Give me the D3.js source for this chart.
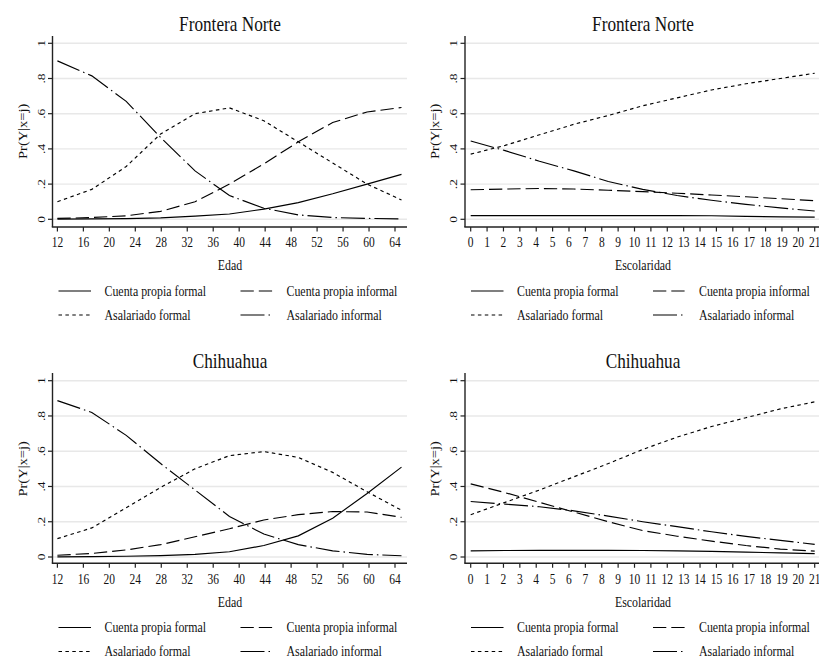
<!DOCTYPE html>
<html>
<head>
<meta charset="utf-8">
<script src="https://cdn.jsdelivr.net/npm/d3@7"></script>
<style>
  body { margin: 0; background: #fff; }
  text { font-family: "Liberation Serif", "Times New Roman", serif; fill: #111; }
</style>
</head>
<body>
<div id="chart"></div>
<script>

// puntos de evaluacion
var edadPts = [12, 17.3, 22.6, 27.9, 33.2, 38.5, 43.8, 49.1, 54.4, 59.7, 65],
    escPts = [0, 2.1, 4.2, 6.3, 8.4, 10.5, 12.6, 14.7, 16.8, 18.9, 21],
    edadTicks = [12, 16, 20, 24, 28, 32, 36, 40, 44, 48, 52, 56, 60, 64],
    escTicks = [0, 1, 2, 3, 4, 5, 6, 7, 8, 9, 10, 11, 12, 13, 14, 15, 16, 17, 18, 19, 20, 21],
    yTicks = [0, 0.2, 0.4, 0.6, 0.8, 1],
    yTickLabels = ["0", ".2", ".4", ".6", ".8", "1"],
    seriesNames = ["Cuenta propia formal", "Cuenta propia informal", "Asalariado formal", "Asalariado informal"];

// Frontera Norte - Edad
var fnEdadCPF = [0.001, 0.002, 0.004, 0.008, 0.018, 0.03, 0.058, 0.095, 0.145, 0.2, 0.255],
    fnEdadCPI = [0.005, 0.01, 0.02, 0.045, 0.10, 0.20, 0.315, 0.44, 0.55, 0.61, 0.635],
    fnEdadAF  = [0.10, 0.17, 0.30, 0.485, 0.60, 0.633, 0.56, 0.44, 0.32, 0.20, 0.11],
    fnEdadAI  = [0.90, 0.815, 0.67, 0.465, 0.275, 0.135, 0.063, 0.025, 0.01, 0.005, 0.002];

// Frontera Norte - Escolaridad
var fnEscCPF = [0.021, 0.021, 0.021, 0.021, 0.021, 0.021, 0.021, 0.02, 0.017, 0.014, 0.012],
    fnEscCPI = [0.168, 0.172, 0.175, 0.172, 0.165, 0.157, 0.148, 0.138, 0.128, 0.117, 0.106],
    fnEscAF  = [0.37, 0.42, 0.48, 0.54, 0.59, 0.645, 0.69, 0.735, 0.77, 0.80, 0.83],
    fnEscAI  = [0.445, 0.39, 0.33, 0.275, 0.215, 0.17, 0.135, 0.108, 0.085, 0.065, 0.047];

// Chihuahua - Edad
var chEdadCPF = [0.001, 0.002, 0.004, 0.008, 0.015, 0.03, 0.065, 0.12, 0.22, 0.36, 0.51],
    chEdadCPI = [0.01, 0.02, 0.04, 0.07, 0.115, 0.16, 0.21, 0.24, 0.258, 0.255, 0.225],
    chEdadAF  = [0.104, 0.165, 0.28, 0.395, 0.50, 0.575, 0.598, 0.565, 0.48, 0.37, 0.265],
    chEdadAI  = [0.887, 0.82, 0.69, 0.53, 0.38, 0.23, 0.13, 0.07, 0.035, 0.015, 0.007];

// Chihuahua - Escolaridad
var chEscCPF = [0.035, 0.037, 0.038, 0.038, 0.038, 0.037, 0.035, 0.032, 0.028, 0.023, 0.019],
    chEscCPI = [0.415, 0.365, 0.31, 0.255, 0.2, 0.15, 0.118, 0.09, 0.065, 0.045, 0.033],
    chEscAF  = [0.24, 0.31, 0.38, 0.455, 0.53, 0.61, 0.68, 0.74, 0.79, 0.84, 0.88],
    chEscAI  = [0.315, 0.30, 0.285, 0.262, 0.232, 0.20, 0.172, 0.143, 0.117, 0.094, 0.072];

var dashes = [null, "13.3,5", "3.5,3.4", "24,4,1.5,4"],
    SX = 0.82; // letra comprimida como en el original

var panels = [
  {title: "Frontera Norte", xlab: "Edad", pts: edadPts, ticks: edadTicks, dom: [12, 64], rng: [57.4, 395],
   series: [fnEdadCPF, fnEdadCPI, fnEdadAF, fnEdadAI], x0: 52.5, right: 407, cx: 230,
   y0: 219.3, y1: 43.3, top: 36, axY: 227, titleY: 31, tickY: 247, labY: 270, leg: [291, 315]},
  {title: "Frontera Norte", xlab: "Escolaridad", pts: escPts, ticks: escTicks, dom: [0, 21], rng: [470.7, 814.7],
   series: [fnEscCPF, fnEscCPI, fnEscAF, fnEscAI], x0: 465, right: 830, cx: 643,
   y0: 219.3, y1: 43.3, top: 36, axY: 227, titleY: 31, tickY: 247, labY: 270, leg: [291, 315]},
  {title: "Chihuahua", xlab: "Edad", pts: edadPts, ticks: edadTicks, dom: [12, 64], rng: [57.4, 395],
   series: [chEdadCPF, chEdadCPI, chEdadAF, chEdadAI], x0: 52.5, right: 407, cx: 230,
   y0: 557, y1: 380.7, top: 373, axY: 563.3, titleY: 368, tickY: 583.5, labY: 607, leg: [627.5, 651.5]},
  {title: "Chihuahua", xlab: "Escolaridad", pts: escPts, ticks: escTicks, dom: [0, 21], rng: [470.7, 814.7],
   series: [chEscCPF, chEscCPI, chEscAF, chEscAI], x0: 465, right: 830, cx: 643,
   y0: 557, y1: 380.7, top: 373, axY: 563.3, titleY: 368, tickY: 583.5, labY: 607, leg: [627.5, 651.5]}
];

var svg = d3.select("#chart").append("svg")
    .attr("width", 819)
    .attr("height", 659);

function txt(g, x, y, s, size, anchor, rot) {
  return g.append("text")
    .attr("transform", "translate(" + x + "," + y + ") scale(" + SX + ",1)" + (rot ? " rotate(-90)" : ""))
    .attr("text-anchor", anchor)
    .style("font-size", size + "px")
    .text(s);
}

panels.forEach(function(p) {
  var g = svg.append("g");
  var x = d3.scaleLinear().domain(p.dom).range(p.rng);
  var y = d3.scaleLinear().domain([0, 1]).range([p.y0, p.y1]);

  // grid
  g.selectAll(".grid").data(yTicks).enter().append("line")
    .attr("x1", p.x0).attr("x2", p.right)
    .attr("y1", function(d) { return y(d); }).attr("y2", function(d) { return y(d); })
    .attr("stroke", "#e8e8e8").attr("stroke-width", 1.4);

  // ejes
  g.append("line").attr("x1", p.x0).attr("x2", p.x0).attr("y1", p.top).attr("y2", p.axY)
    .attr("stroke", "#222").attr("stroke-width", 1.4);
  g.append("line").attr("x1", p.x0 - 0.7).attr("x2", p.right).attr("y1", p.axY).attr("y2", p.axY)
    .attr("stroke", "#222").attr("stroke-width", 1.4);

  g.selectAll(".yt").data(yTicks).enter().append("line")
    .attr("x1", p.x0 - 4.5).attr("x2", p.x0)
    .attr("y1", function(d) { return y(d); }).attr("y2", function(d) { return y(d); })
    .attr("stroke", "#222").attr("stroke-width", 1.2);
  yTicks.forEach(function(d, i) {
    txt(g, p.x0 - 8, y(d), yTickLabels[i], 13.5, "middle", true);
  });

  g.selectAll(".xt").data(p.ticks).enter().append("line")
    .attr("x1", function(d) { return x(d); }).attr("x2", function(d) { return x(d); })
    .attr("y1", p.axY).attr("y2", p.axY + 4.5)
    .attr("stroke", "#222").attr("stroke-width", 1.2);
  p.ticks.forEach(function(d) {
    txt(g, x(d), p.tickY, d, 14, "middle");
  });

  txt(g, p.cx, p.titleY, p.title, 21, "middle");
  txt(g, p.cx, p.labY, p.xlab, 14.5, "middle");
  txt(g, p.x0 - 26, (p.y0 + p.y1) / 2, "Pr(Y|x=j)", 14.5, "middle", true);

  // curvas
  var line = d3.line()
    .x(function(d) { return x(d[0]); })
    .y(function(d) { return y(d[1]); });
  p.series.forEach(function(s, i) {
    g.append("path")
      .datum(p.pts.map(function(v, j) { return [v, s[j]]; }))
      .attr("d", line)
      .attr("fill", "none")
      .attr("stroke", "#000")
      .attr("stroke-width", 1.15)
      .attr("stroke-dasharray", dashes[i]);
  });

  // leyenda
  seriesNames.forEach(function(name, i) {
    var lx = p.x0 + (i % 2 ? 188 : 6),
        ly = p.leg[Math.floor(i / 2)];
    g.append("line")
      .attr("x1", lx).attr("x2", lx + 32.5)
      .attr("y1", ly).attr("y2", ly)
      .attr("stroke", "#000").attr("stroke-width", 1.15)
      .attr("stroke-dasharray", dashes[i]);
    txt(g, lx + 46, ly + 4.5, name, 14.5, "start");
  });
});

</script>
</body>
</html>
